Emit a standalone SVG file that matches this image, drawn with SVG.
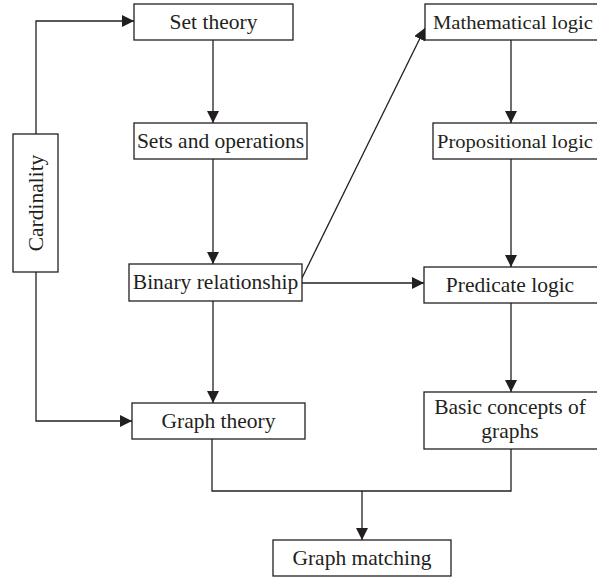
<svg xmlns="http://www.w3.org/2000/svg" width="597" height="578" viewBox="0 0 597 578">
<style>
.box{fill:#fff;stroke:#231f20;stroke-width:1.3}
.t{font-family:"Liberation Serif","Times New Roman",serif;font-size:21.5px;fill:#231f20;text-anchor:middle}
.s{text-anchor:start;font-size:19.5px}
.c{fill:none;stroke:#231f20;stroke-width:1.3}
</style>
<defs>
<marker id="ah" markerUnits="userSpaceOnUse" markerWidth="12" markerHeight="12" viewBox="0 0 12 12" refX="12" refY="6" orient="auto">
<path d="M0,0 L12,6 L0,12 z" fill="#231f20"/>
</marker>
</defs>
<g id="connectors">
<path class="c" d="M36,134 V21 H134" marker-end="url(#ah)"/>
<path class="c" d="M36,272 V421 H132" marker-end="url(#ah)"/>
<path class="c" d="M213,40 V123" marker-end="url(#ah)"/>
<path class="c" d="M213,159 V264" marker-end="url(#ah)"/>
<path class="c" d="M213,301 V403" marker-end="url(#ah)"/>
<path class="c" d="M302,278 L425,28" marker-end="url(#ah)"/>
<path class="c" d="M302,283 H424" marker-end="url(#ah)"/>
<path class="c" d="M511,40 V123" marker-end="url(#ah)"/>
<path class="c" d="M511,159 V267" marker-end="url(#ah)"/>
<path class="c" d="M511,303 V392" marker-end="url(#ah)"/>
<path class="c" d="M212,439 V491 H511 V449"/>
<path class="c" d="M362,491 V540" marker-end="url(#ah)"/>
</g>
<g id="set-theory"><rect class="box" x="134" y="4" width="159" height="36"/><text class="t" x="213.5" y="29">Set theory</text></g>
<g id="sets-and-operations"><rect class="box" x="134" y="123" width="173" height="36"/><text class="t" x="220.5" y="148">Sets and operations</text></g>
<g id="cardinality"><rect class="box" x="13" y="134" width="45" height="138"/><text class="t" transform="translate(42.5,203) rotate(-90)" x="0" y="0">Cardinality</text></g>
<g id="binary-relationship"><rect class="box" x="129" y="264" width="173" height="37"/><text class="t" x="215.5" y="289">Binary relationship</text></g>
<g id="graph-theory"><rect class="box" x="132" y="403" width="173" height="36"/><text class="t" x="218.5" y="428">Graph theory</text></g>
<g id="mathematical-logic"><rect class="box" x="425" y="4" width="180" height="36"/><text class="t s" x="433" y="29" textLength="160" lengthAdjust="spacingAndGlyphs">Mathematical logic</text></g>
<g id="propositional-logic"><rect class="box" x="433" y="123" width="172" height="36"/><text class="t s" x="437" y="148" textLength="156" lengthAdjust="spacingAndGlyphs">Propositional logic</text></g>
<g id="predicate-logic"><rect class="box" x="424" y="267" width="181" height="36"/><text class="t" x="510" y="292">Predicate logic</text></g>
<g id="basic-concepts"><rect class="box" x="424" y="392" width="181" height="57"/><text class="t" x="510" y="414">Basic concepts of</text><text class="t" x="510" y="438">graphs</text></g>
<g id="graph-matching"><rect class="box" x="273" y="540" width="178" height="36"/><text class="t" x="362" y="565">Graph matching</text></g>
</svg>
